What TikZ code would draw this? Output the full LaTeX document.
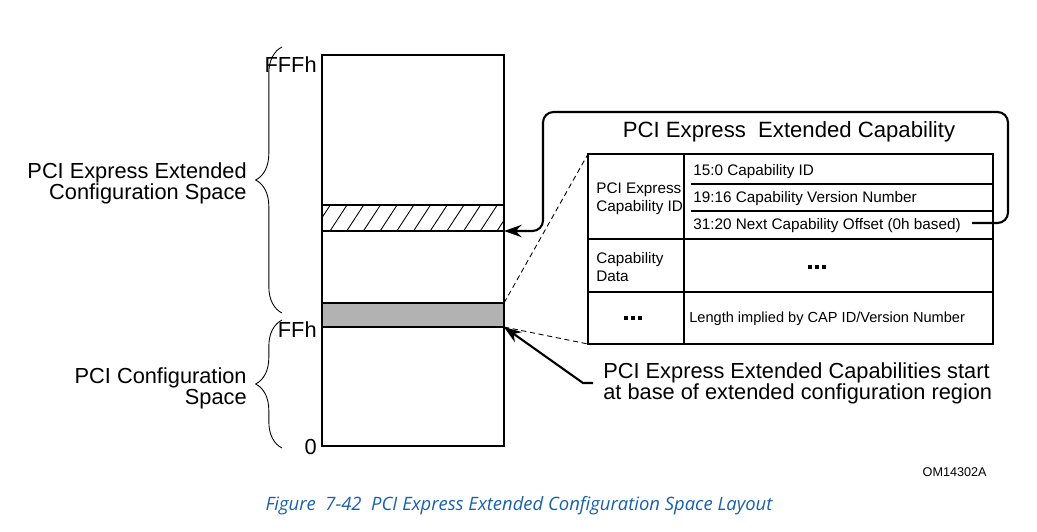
\documentclass[tikz,border=0pt]{standalone}
\usepackage{fontspec}
\setmainfont{Liberation Sans}
\newfontfamily\capfont{Open Sans}
\usetikzlibrary{arrows.meta,decorations.pathreplacing,calc}
\tikzstyle{lbl}=[inner sep=0pt,font=\fontsize{12.4}{12}\selectfont]
\tikzstyle{cell}=[inner sep=0pt,font=\fontsize{8.7}{10.2}\selectfont]
\tikzstyle{memline}=[line width=1.1pt]
\tikzstyle{tabline}=[line width=0.8pt]
\tikzstyle{spanbrace}=[decorate,decoration={brace,amplitude=15pt,aspect=0.5},line width=0.5pt]
\tikzstyle{guide}=[line width=0.5pt,dash pattern=on 3pt off 2pt]
\tikzstyle{pointer}=[line width=1.2pt,-{Stealth[length=10pt,width=7pt]}]
\definecolor{capblue}{RGB}{24,96,172}
\definecolor{bandgray}{RGB}{178,178,178}
\newcommand{\sqdots}{\rule{2.5pt}{2.5pt}\hspace{1.4pt}\rule{2.5pt}{2.5pt}\hspace{1.4pt}\rule{2.5pt}{2.5pt}}

\begin{document}
\begin{tikzpicture}[x=0.02cm,y=-0.02cm]
	\useasboundingbox (0,0) rectangle (1037,531);
	% config space column
	\fill[bandgray] (322,303) rectangle (504,327);
	\begin{scope}
		\clip (322,205) rectangle (504,231);
		\foreach \k in {-1,...,11}
			\draw[line width=0.5pt] ({330+16.7*\k},231) -- ++(17,-26);
	\end{scope}
	\draw[memline] (322,55) rectangle (504,446);
	\draw[memline] (322,205) -- (504,205) (322,231) -- (504,231)
		(322,303) -- (504,303) (322,327) -- (504,327);
	\coordinate (hatchbot) at (504,231);
	\coordinate (graytop) at (504,303);
	\coordinate (graybot) at (504,327);
	\node[lbl,anchor=east] (fffh) at (317,65) {FFFh};
	\node[lbl,anchor=east] (ffh) at (317,330) {FFh};
	\node[lbl,anchor=east] (zero) at (317,447) {0};
	\draw[spanbrace] (282,313) -- (282,47);
	\draw[spanbrace] (282,448) -- (282,320);
	\node[lbl,anchor=east,align=right] (extlbl) at (247,183) {PCI Express Extended\\Configuration Space};
	\node[lbl,anchor=east,align=right] (cfglbl) at (247,388) {PCI Configuration\\Space};

	% capability structure
	\node[lbl,font=\fontsize{12.6}{14}\selectfont] (captitle) at (789,132) {PCI Express\ \ Extended Capability};
	\coordinate (tabnw) at (588,154);
	\coordinate (tabsw) at (588,344);
	\draw[tabline] (tabnw) rectangle (993,344);
	\draw[tabline] (684,154) -- (684,344);
	\draw[tabline] (588,239) -- (993,239) (588,292) -- (993,292);
	\draw[tabline] (691,184) -- (993,184) (691,211) -- (993,211);
	\node[cell,anchor=west,align=left] (idhdr) at (596,199) {PCI Express\\Capability ID};
	\node[cell,anchor=west] (capid) at (693,172) {15:0 Capability ID};
	\node[cell,anchor=west] (verno) at (693,199) {19:16 Capability Version Number};
	\node[cell,anchor=west] (nextoff) at (693,226) {31:20 Next Capability Offset (0h based)};
	\node[cell,anchor=west,align=left] (datahdr) at (596,267) {Capability\\Data};
	\node[cell] (datadots) at (817,267) {\sqdots};
	\node[cell] (lendots) at (633,318) {\sqdots};
	\node[cell,anchor=west,font=\fontsize{8.3}{10}\selectfont] (lentxt) at (689,319) {Length implied by CAP ID/Version Number};

	\draw[guide] (graytop) -- (tabnw);
	\draw[guide] (graybot) -- (tabsw);
	\draw[pointer,rounded corners=6pt] ($(nextoff.east)+(11,-3)$) -- (1008,223) -- (1008,112)
		-- (543,112) -- (543,231) -- (hatchbot);

	\node[lbl,anchor=west,align=left] (startlbl) at (603,383) {PCI Express Extended Capabilities start\\at base of extended configuration region};
	\draw[pointer] ($(startlbl.west)+(-10,0)$) -- ++(-10,0) -- (graybot);

	\node[inner sep=0pt,font=\fontsize{7.2}{8}\selectfont,anchor=east] (figid) at (987,472) {OM14302A};
	\node[inner sep=0pt,text=capblue,font=\capfont\itshape\fontsize{10.5}{12}\selectfont] (caption) at (519,506) {Figure\ \ 7-42\ \ PCI Express Extended Configuration Space Layout};
\end{tikzpicture}
\end{document}
